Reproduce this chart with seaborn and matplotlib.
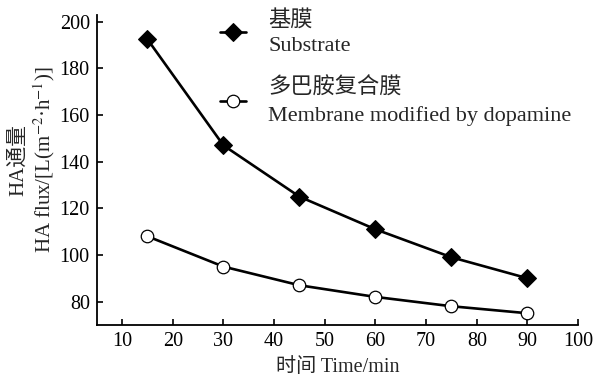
import matplotlib
matplotlib.use("Agg")
import matplotlib.pyplot as plt
import seaborn as sns
import pandas as pd

time_min = [15, 30, 45, 60, 75, 90]
substrate = [192.5, 147, 125, 111, 99, 90]
dopamine = [108, 95, 87, 82, 78, 75]
label_sub = "基膜\nSubstrate"
label_dopa = "多巴胺复合膜\nMembrane modified by dopamine"
x_ticks = [10, 20, 30, 40, 50, 60, 70, 80, 90, 100]
y_ticks = [80, 100, 120, 140, 160, 180, 200]

sns.set_style("ticks")
plt.rcParams['font.family'] = ['Liberation Serif', 'Noto Sans CJK SC']
plt.rcParams['mathtext.fontset'] = 'stix'

fig = plt.figure(figsize=(6.01, 3.8), dpi=100)
ax = fig.add_axes([0.161, 0.145, 0.801, 0.816])

df1 = pd.DataFrame({"t": time_min, "v": substrate})
df2 = pd.DataFrame({"t": time_min, "v": dopamine})
sns.lineplot(data=df1, x="t", y="v", ax=ax, color="black", lw=1.9,
             marker="D", markersize=9, markerfacecolor="black",
             markeredgecolor="black", label=label_sub)
sns.lineplot(data=df2, x="t", y="v", ax=ax, color="black", lw=1.9,
             marker="o", markersize=9, markerfacecolor="white",
             markeredgecolor="black", markeredgewidth=0.9, label=label_dopa)

ax.set_xlim(5, 100)
ax.set_ylim(70, 203)
ax.set_xticks(x_ticks)
ax.set_yticks(y_ticks)
ax.tick_params(direction="in", length=4, width=1.2, labelsize=14.5, colors="black", pad=5)
for s in ["left", "bottom"]:
    ax.spines[s].set_linewidth(1.3)
    ax.spines[s].set_color("black")
sns.despine(ax=ax)

ax.set_xlabel("时间 Time/min", fontsize=14.5, labelpad=5)
ax.set_ylabel("")
fig.text(0.031, 0.579, "HA通量", rotation=90, ha="center", va="center", fontsize=15)
fig.text(0.074, 0.579, r"HA flux/[L(m$^{-2}$·h$^{-1}$)]", rotation=90,
         ha="center", va="center", fontsize=15)

leg = ax.legend(loc="upper left", bbox_to_anchor=(0.255, 1.017), frameon=False,
                fontsize=16, handlelength=1.2, handletextpad=1.0,
                labelspacing=1.0, borderaxespad=0, borderpad=0)
for t in leg.get_texts():
    t.set_linespacing(1.45)

fig.savefig("out.png", dpi=100)
